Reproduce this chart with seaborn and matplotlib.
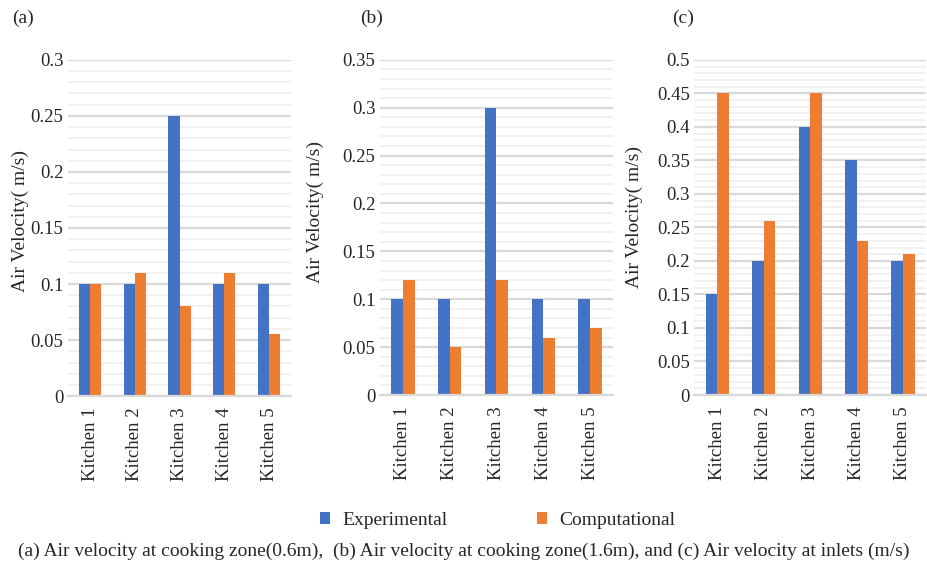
import numpy as np
import pandas as pd
import matplotlib
matplotlib.use("Agg")
import matplotlib.pyplot as plt
from matplotlib.ticker import MultipleLocator, FuncFormatter
from matplotlib.patches import Patch
import seaborn as sns

# dữ liệu
kitchens = ["Kitchen 1", "Kitchen 2", "Kitchen 3", "Kitchen 4", "Kitchen 5"]
series_names = ["Experimental", "Computational"]

exp_a = [0.10, 0.10, 0.25, 0.10, 0.10]
comp_a = [0.10, 0.11, 0.08, 0.11, 0.055]

exp_b = [0.10, 0.10, 0.30, 0.10, 0.10]
comp_b = [0.12, 0.05, 0.12, 0.06, 0.07]

exp_c = [0.15, 0.20, 0.40, 0.35, 0.20]
comp_c = [0.45, 0.26, 0.45, 0.23, 0.21]

panel_tags = ["(a)", "(b)", "(c)"]
y_max = [0.3, 0.35, 0.5]
caption = ("(a) Air velocity at cooking zone(0.6m),  (b) Air velocity at cooking "
           "zone(1.6m), and (c) Air velocity at inlets (m/s)")

BLUE = "#4472C4"
ORANGE = "#ED7D31"
MAJOR_GRID = "#d9d9d9"
MINOR_GRID = "#efefef"

sns.set_theme(style="white")
plt.rcParams["font.family"] = "serif"
plt.rcParams["font.serif"] = ["Liberation Serif", "DejaVu Serif"]


def make_df(exp, comp):
    return pd.DataFrame({
        "kitchen": kitchens * 2,
        "series": [series_names[0]] * len(kitchens) + [series_names[1]] * len(kitchens),
        "velocity": list(exp) + list(comp),
    })


def fmt(v, pos):
    if abs(v) < 1e-9:
        return "0"
    return f"{v:.2f}".rstrip("0").rstrip(".")


fig = plt.figure(figsize=(9.28, 5.70), dpi=100)

# vị trí các trục [left, bottom, width, height]
boxes = [
    [0.073, 0.305, 0.241, 0.590],
    [0.409, 0.307, 0.252, 0.588],
    [0.748, 0.307, 0.250, 0.588],
]
tag_x = [0.013, 0.388, 0.724]
ylabel_x = [0.022, 0.340, 0.684]
ylabel_y = [0.612, 0.628, 0.619]

datasets = [(exp_a, comp_a), (exp_b, comp_b), (exp_c, comp_c)]

for i, (exp, comp) in enumerate(datasets):
    ax = fig.add_axes(boxes[i])
    df = make_df(exp, comp)
    sns.barplot(data=df, x="kitchen", y="velocity", hue="series",
                palette=[BLUE, ORANGE], width=0.5, gap=0, ax=ax,
                legend=False, linewidth=0, saturation=1)
    ax.set_ylim(0, y_max[i])
    ax.yaxis.set_major_locator(MultipleLocator(0.05))
    ax.yaxis.set_minor_locator(MultipleLocator(0.01))
    ax.yaxis.set_major_formatter(FuncFormatter(fmt))
    ax.grid(axis="y", which="major", color=MAJOR_GRID, linewidth=1.6)
    ax.grid(axis="y", which="minor", color=MINOR_GRID, linewidth=1.2)
    ax.set_axisbelow(True)
    for s in ["top", "right", "left"]:
        ax.spines[s].set_visible(False)
    ax.spines["bottom"].set_color(MAJOR_GRID)
    ax.spines["bottom"].set_linewidth(1.6)
    ax.tick_params(axis="y", which="both", length=0, pad=3, labelsize=13.5)
    ax.tick_params(axis="x", length=0, pad=8, labelsize=13.5, rotation=90)
    ax.set_xlabel("")
    ax.set_ylabel("")
    fig.text(ylabel_x[i], ylabel_y[i], "Air Velocity( m/s)", rotation=90,
             ha="center", va="center", fontsize=14)
    fig.text(tag_x[i], 0.968, panel_tags[i], ha="left", va="center", fontsize=14)

handles = [Patch(facecolor=BLUE, edgecolor="none"), Patch(facecolor=ORANGE, edgecolor="none")]
fig.legend(handles, series_names, loc="center", bbox_to_anchor=(0.536, 0.087),
           ncol=2, frameon=False, fontsize=14, handlelength=0.55, handleheight=0.55,
           handletextpad=0.6, columnspacing=4.6)

fig.text(0.5, 0.032, caption, ha="center", va="center", fontsize=14)

fig.savefig("out.png", dpi=100, facecolor="white")
